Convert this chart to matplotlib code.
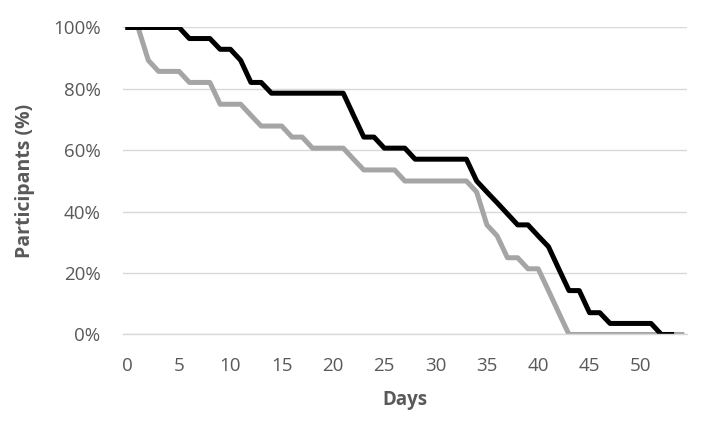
import matplotlib
matplotlib.use("Agg")
import matplotlib.pyplot as plt
from matplotlib.ticker import FuncFormatter

# survival-style curves, one value per day (percent of participants remaining)
days_black = list(range(0, 54))
black = [100, 100, 100, 100, 100, 100, 96.4, 96.4, 96.4, 92.9,
         92.9, 89.3, 82.1, 82.1, 78.6, 78.6, 78.6, 78.6, 78.6, 78.6,
         78.6, 78.6, 71.4, 64.3, 64.3, 60.7, 60.7, 60.7, 57.1, 57.1,
         57.1, 57.1, 57.1, 57.1, 50.0, 46.4, 42.9, 39.3, 35.7, 35.7,
         32.1, 28.6, 21.4, 14.3, 14.3, 7.1, 7.1, 3.6, 3.6, 3.6,
         3.6, 3.6, 0, 0]

days_gray = list(range(0, 55))
gray = [100, 100, 89.3, 85.7, 85.7, 85.7, 82.1, 82.1, 82.1, 75.0,
        75.0, 75.0, 71.4, 67.9, 67.9, 67.9, 64.3, 64.3, 60.7, 60.7,
        60.7, 60.7, 57.1, 53.6, 53.6, 53.6, 53.6, 50.0, 50.0, 50.0,
        50.0, 50.0, 50.0, 50.0, 46.4, 35.7, 32.1, 25.0, 25.0, 21.4,
        21.4, 14.3, 7.1, 0, 0, 0, 0, 0, 0, 0,
        0, 0, 0, 0, 0]

x_ticks = [0, 5, 10, 15, 20, 25, 30, 35, 40, 45, 50]
y_ticks = [0, 20, 40, 60, 80, 100]

plt.rcParams['font.family'] = ['Open Sans', 'DejaVu Sans']
text_color = '#595959'

fig = plt.figure(figsize=(7.01, 4.21), dpi=100)
ax = fig.add_axes([0.175, 0.2055, 0.805, 0.7292])

ax.plot(days_gray, gray, color='#A5A5A5', linewidth=3.6, solid_joinstyle='round')
ax.plot(days_black, black, color='black', linewidth=3.6, solid_joinstyle='round')

ax.set_xlim(-0.5, 54.5)
ax.set_ylim(0, 100)
ax.set_xticks(x_ticks)
ax.set_yticks(y_ticks)
ax.yaxis.set_major_formatter(FuncFormatter(lambda v, p: f"{int(v)}%"))

ax.grid(axis='y', color='#D9D9D9', linewidth=1.0)
ax.set_axisbelow(True)
for s in ['top', 'right', 'left']:
    ax.spines[s].set_visible(False)
ax.spines['bottom'].set_color('#D9D9D9')
ax.spines['bottom'].set_linewidth(1.0)

ax.tick_params(axis='both', length=0, labelsize=13.5, labelcolor=text_color)
ax.tick_params(axis='y', pad=16)
ax.tick_params(axis='x', pad=16)

ax.set_xlabel("Days", fontsize=13.5, fontweight='bold', color=text_color, labelpad=11)
ax.set_ylabel("Participants (%)", fontsize=14, fontweight='bold', color=text_color, labelpad=13)

fig.savefig("out.png", dpi=100)
